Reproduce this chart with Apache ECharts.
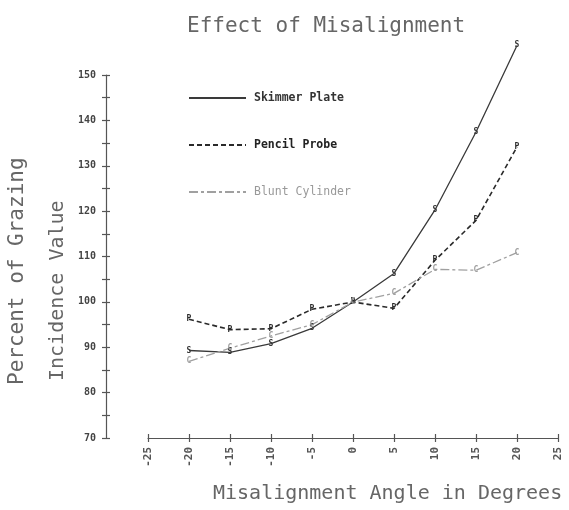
<!DOCTYPE html>
<html>
<head>
<meta charset="utf-8">
<script src="https://cdn.jsdelivr.net/npm/echarts@6/dist/echarts.min.js"></script>
<style>html,body{margin:0;padding:0;background:#fff}#c{width:569px;height:510px}</style>
</head>
<body>
<div id="c"></div>
<script>
const angles = [-20, -15, -10, -5, 0, 5, 10, 15, 20];
const skimmerPlate = [89.3, 88.9, 90.8, 94.2, 100, 106.3, 120.3, 137.5, 156.6];
const pencilProbe = [96.2, 93.9, 94.1, 98.4, 100, 98.6, 109.2, 118, 134.2];
const bluntCylinder = [86.9, 89.8, 92.5, 95, 100, 101.9, 107.2, 107, 110.9];
const yTicks = [70, 80, 90, 100, 110, 120, 130, 140, 150];
const xTicks = [-25, -20, -15, -10, -5, 0, 5, 10, 15, 20, 25];
const seriesNames = ['Skimmer Plate', 'Pencil Probe', 'Blunt Cylinder'];
const markers = ['S', 'P', 'C'];

const FONT = 'DejaVu Sans Mono';
const pairs = vals => angles.map((a, i) => [a, vals[i]]);

const chart = echarts.init(document.getElementById('c'), null, {renderer: 'canvas'});

const axisLine = {show: true, lineStyle: {color: '#555', width: 1.2}};
const tickOut = {show: true, inside: false, length: 4, lineStyle: {color: '#555', width: 1.2}};
const tickIn = {show: true, inside: true, length: 4, lineStyle: {color: '#555', width: 1.2}};

function mkSeries(name, vals, mark, color, type, width) {
  return {
    name: name,
    type: 'line',
    xAxisIndex: 2,
    yAxisIndex: 2,
    data: pairs(vals),
    symbol: 'circle',
    symbolSize: 2,
    showSymbol: true,
    itemStyle: {color: 'rgba(0,0,0,0)', borderWidth: 0},
    lineStyle: {color: color, type: type, width: width},
    label: {
      show: true, position: 'inside', formatter: mark,
      fontFamily: FONT, fontSize: 8, fontWeight: 'bold', color: color, opacity: 1
    },
    emphasis: {disabled: true},
    animation: false,
    z: 5
  };
}

const option = {
  backgroundColor: '#fff',
  animation: false,
  title: {
    text: 'Effect of Misalignment',
    left: 182, top: 11,
    textStyle: {fontFamily: FONT, fontSize: 21, fontWeight: 'normal', color: '#666'}
  },
  legend: {
    orient: 'vertical',
    left: 188, top: 92,
    padding: 0,
    itemWidth: 57, itemHeight: 10,
    itemGap: 35,
    data: [
      {name: seriesNames[0], textStyle: {color: '#333', fontWeight: 'bold'}},
      {name: seriesNames[1], textStyle: {color: '#222', fontWeight: 'bold'}},
      {name: seriesNames[2], textStyle: {color: '#999', fontWeight: 'normal'}}
    ],
    textStyle: {fontFamily: FONT, fontSize: 11.5, padding: [0, 0, 0, 3]},
    selectedMode: false
  },
  grid: [
    {left: 106, width: 40, top: 75, bottom: 72, containLabel: false},
    {left: 148, right: 11, top: 30, bottom: 72, containLabel: false}
  ],
  xAxis: [
    {gridIndex: 0, type: 'value', min: 0, max: 1, show: false},
    {gridIndex: 1, type: 'value', min: -25, max: 25, interval: 5, position: 'bottom',
      axisLine: {show: false}, axisTick: tickIn, axisLabel: {show: false}, splitLine: {show: false}},
    {gridIndex: 1, type: 'value', min: -25, max: 25, interval: 5, position: 'bottom',
      axisLine: axisLine, axisTick: tickOut, splitLine: {show: false},
      axisLabel: {rotate: 90, margin: 9, fontFamily: FONT, fontSize: 11, fontWeight: 'bold', color: '#555',
        formatter: v => xTicks.indexOf(v) >= 0 ? String(v) : ''}}
  ],
  yAxis: [
    {gridIndex: 0, type: 'value', min: 70, max: 150, interval: 5, position: 'left',
      axisLine: axisLine, axisTick: tickOut, splitLine: {show: false},
      axisLabel: {margin: 10, fontFamily: FONT, fontSize: 10, fontWeight: 'bold', color: '#444',
        formatter: v => yTicks.indexOf(v) >= 0 ? String(v) : ''}},
    {gridIndex: 0, type: 'value', min: 70, max: 150, interval: 5, position: 'left',
      axisLine: {show: false}, axisTick: tickIn, axisLabel: {show: false}, splitLine: {show: false}},
    {gridIndex: 1, type: 'value', min: 70, max: 160, show: false}
  ],
  graphic: [
    {type: 'text', x: 18, y: 385, rotation: Math.PI / 2,
      style: {text: 'Percent of Grazing', font: '21px "DejaVu Sans Mono"', fill: '#666',
        align: 'left', verticalAlign: 'middle'}},
    {type: 'text', x: 58, y: 381, rotation: Math.PI / 2,
      style: {text: 'Incidence Value', font: '20px "DejaVu Sans Mono"', fill: '#666',
        align: 'left', verticalAlign: 'middle'}},
    {type: 'text', left: 213, top: 484,
      style: {text: 'Misalignment Angle in Degrees', font: '20px "DejaVu Sans Mono"', fill: '#666'}}
  ],
  series: [
    mkSeries(seriesNames[0], skimmerPlate, markers[0], '#3a3a3a', 'solid', 1.3),
    mkSeries(seriesNames[1], pencilProbe, markers[1], '#2a2a2a', [5, 3], 1.6),
    mkSeries(seriesNames[2], bluntCylinder, markers[2], '#a0a0a0', [9, 3, 3, 3], 1.3)
  ]
};
chart.setOption(option);
</script>
</body>
</html>
